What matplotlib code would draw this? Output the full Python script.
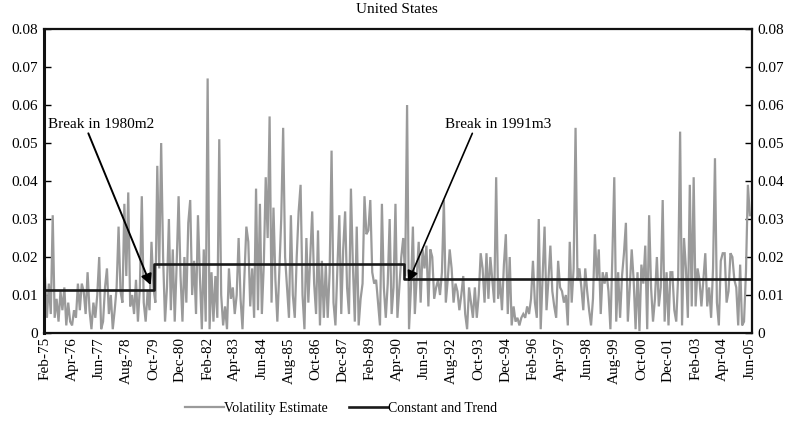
import matplotlib
matplotlib.use("Agg")
import matplotlib.pyplot as plt
from matplotlib.lines import Line2D
import numpy as np

volatility = [
    0.0145, 0.004, 0.013, 0.005, 0.031, 0.004, 0.009, 0.003, 0.011, 0.006, 0.012, 0.002,
    0.008, 0.003, 0.002, 0.006, 0.004, 0.013, 0.006, 0.013, 0.011, 0.005, 0.016, 0.006,
    0.001, 0.008, 0.004, 0.010, 0.020, 0.001, 0.003, 0.012, 0.017, 0.005, 0.010, 0.001,
    0.006, 0.012, 0.028, 0.011, 0.008, 0.034, 0.015, 0.037, 0.007, 0.010, 0.005, 0.014,
    0.003, 0.012, 0.036, 0.008, 0.003, 0.011, 0.006, 0.024, 0.012, 0.008, 0.044, 0.017,
    0.050, 0.020, 0.003, 0.012, 0.030, 0.006, 0.022, 0.003, 0.018, 0.036, 0.015, 0.003,
    0.020, 0.008, 0.029, 0.035, 0.010, 0.019, 0.005, 0.031, 0.015, 0.001, 0.022, 0.003,
    0.067, 0.001, 0.016, 0.003, 0.015, 0.004, 0.051, 0.010, 0.002, 0.007, 0.001, 0.017,
    0.009, 0.012, 0.005, 0.010, 0.025, 0.009, 0.001, 0.015, 0.028, 0.024, 0.007, 0.017,
    0.004, 0.038, 0.006, 0.034, 0.005, 0.018, 0.041, 0.025, 0.057, 0.008, 0.033, 0.014,
    0.003, 0.016, 0.030, 0.054, 0.020, 0.012, 0.004, 0.031, 0.010, 0.004, 0.020, 0.032,
    0.039, 0.010, 0.001, 0.025, 0.008, 0.020, 0.032, 0.013, 0.005, 0.027, 0.002, 0.019,
    0.004, 0.018, 0.004, 0.016, 0.048, 0.008, 0.002, 0.017, 0.031, 0.005, 0.022, 0.032,
    0.012, 0.005, 0.038, 0.018, 0.003, 0.028, 0.002, 0.009, 0.013, 0.036, 0.026, 0.027,
    0.035, 0.016, 0.013, 0.014, 0.008, 0.002, 0.034, 0.012, 0.004, 0.013, 0.030, 0.005,
    0.012, 0.034, 0.004, 0.012, 0.020, 0.025, 0.015, 0.060, 0.001, 0.012, 0.028, 0.005,
    0.015, 0.024, 0.008, 0.022, 0.017, 0.023, 0.007, 0.022, 0.020, 0.009, 0.012, 0.014,
    0.010, 0.016, 0.035, 0.008, 0.014, 0.022, 0.017, 0.008, 0.013, 0.011, 0.006, 0.010,
    0.015, 0.005, 0.001, 0.012, 0.008, 0.004, 0.012, 0.004, 0.010, 0.021, 0.017, 0.008,
    0.021, 0.009, 0.020, 0.014, 0.008, 0.041, 0.009, 0.014, 0.006, 0.018, 0.026, 0.005,
    0.020, 0.002, 0.007, 0.003, 0.004, 0.002, 0.004, 0.005, 0.004, 0.007, 0.005, 0.009,
    0.019, 0.008, 0.004, 0.030, 0.001, 0.015, 0.028, 0.006, 0.014, 0.023, 0.011, 0.007,
    0.004, 0.019, 0.012, 0.011, 0.008, 0.010, 0.002, 0.024, 0.008, 0.017, 0.054, 0.014,
    0.017, 0.012, 0.006, 0.017, 0.011, 0.006, 0.002, 0.009, 0.026, 0.014, 0.022, 0.005,
    0.016, 0.013, 0.016, 0.011, 0.001, 0.020, 0.041, 0.003, 0.016, 0.004, 0.015, 0.021,
    0.029, 0.003, 0.012, 0.022, 0.014, 0.001, 0.016, 0.0005, 0.018, 0.013, 0.023, 0.001,
    0.031, 0.012, 0.003, 0.009, 0.020, 0.007, 0.012, 0.035, 0.003, 0.016, 0.002, 0.016,
    0.016, 0.006, 0.003, 0.015, 0.053, 0.002, 0.025, 0.017, 0.004, 0.039, 0.007, 0.041,
    0.007, 0.017, 0.014, 0.007, 0.014, 0.021, 0.007, 0.012, 0.004, 0.017, 0.046, 0.008,
    0.002, 0.019, 0.021, 0.021, 0.008, 0.011, 0.021, 0.020, 0.014, 0.012, 0.002, 0.018,
    0.002, 0.003, 0.016, 0.039, 0.031,
]

# constant-and-trend levels and the month index where each regime starts
trend_levels = [0.0113, 0.0182, 0.0143]
trend_starts = [0, 57, 186]

month_names = ["Jan", "Feb", "Mar", "Apr", "May", "Jun",
               "Jul", "Aug", "Sep", "Oct", "Nov", "Dec"]
start_year, start_month = 1975, 2   # Feb-75
tick_step = 14

break_labels = ["Break in 1980m2", "Break in 1991m3"]

plt.rcParams['font.family'] = ['Liberation Serif', 'DejaVu Serif']

n = len(volatility)
x = np.arange(n)
trend = np.empty(n)
for k, s in enumerate(trend_starts):
    trend[s:] = trend_levels[k]

def month_label(i):
    m = start_month - 1 + i
    y = start_year + m // 12
    return f"{month_names[m % 12]}-{y % 100:02d}"

fig = plt.figure(figsize=(7.93, 4.21), dpi=100)
ax = fig.add_axes([0.0555, 0.209, 0.8925, 0.722])

ax.plot(x, volatility, color="#9a9a9a", lw=1.6, solid_joinstyle="miter")
ax.plot(x, trend, color="#1a1a1a", lw=1.9, drawstyle="steps-mid")

ax.set_xlim(-0.5, n)
ax.set_ylim(0, 0.08)
yt = np.arange(0, 0.081, 0.01)
ax.set_yticks(yt)
ax.set_yticklabels(["0" if v == 0 else f"{v:.2f}" for v in yt])
ax.tick_params(axis="y", direction="in", length=5, width=1, labelsize=11,
               right=True, labelright=True, pad=4)
ticks = list(range(0, n, tick_step))
ax.set_xticks(ticks)
ax.set_xticklabels([month_label(i) for i in ticks], rotation=90, fontsize=11)
ax.tick_params(axis="x", length=0, pad=3)
for sp in ax.spines.values():
    sp.set_linewidth(1.6)
    sp.set_color("#111111")
ax.spines["left"].set_linewidth(2.2)

fig.text(0.5, 0.992, "United States", ha="center", va="top", fontsize=11)

ax.annotate(break_labels[0], xy=(54.6, 0.0126), xytext=(1.5, 0.055),
            fontsize=11, va="center", ha="left",
            arrowprops=dict(arrowstyle="-|>", color="black", lw=1.4,
                            mutation_scale=16, shrinkA=0, shrinkB=0,
                            relpos=(0.37, 0.0)))
ax.annotate(break_labels[1], xy=(187.6, 0.0135), xytext=(206.5, 0.055),
            fontsize=11, va="center", ha="left",
            arrowprops=dict(arrowstyle="-|>", color="black", lw=1.2,
                            mutation_scale=16, shrinkA=0, shrinkB=0,
                            relpos=(0.27, 0.0)))

handles = [Line2D([], [], color="#9a9a9a", lw=1.6),
           Line2D([], [], color="#1a1a1a", lw=1.9)]
fig.legend(handles, ["Volatility Estimate", "Constant and Trend"],
           loc="center", bbox_to_anchor=(0.43, 0.03), ncol=2, frameon=False,
           fontsize=10, handlelength=2.8, handletextpad=0.0, columnspacing=1.5)

fig.savefig("out.png", dpi=100)
